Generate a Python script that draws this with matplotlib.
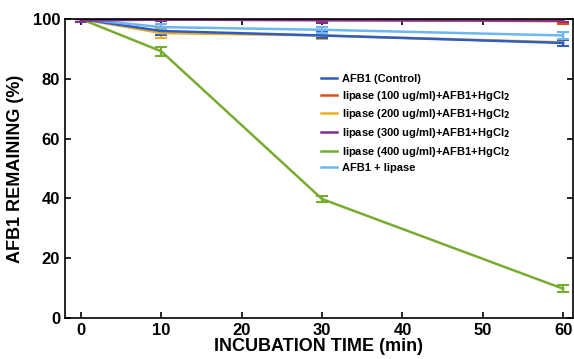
import numpy as np
import matplotlib
matplotlib.use("Agg")
import matplotlib.pyplot as plt
from matplotlib.lines import Line2D

plt.rcParams['font.family'] = ['Liberation Sans', 'DejaVu Sans']
plt.rcParams['font.weight'] = 'bold'
plt.rcParams['mathtext.default'] = 'bf'

# data
time_min = [0, 10, 30, 60]
labels = ["AFB1 (Control)",
          "lipase (100 ug/ml)+AFB1+HgCl$_2$",
          "lipase (200 ug/ml)+AFB1+HgCl$_2$",
          "lipase (300 ug/ml)+AFB1+HgCl$_2$",
          "lipase (400 ug/ml)+AFB1+HgCl$_2$",
          "AFB1 + lipase"]
colors = ["#2f5cc4", "#d95319", "#edb120", "#7e2f8e", "#77ac30", "#6db6f0"]

control = [100, 96.0, 94.5, 92.0]
lip100 = [100, 99.8, 99.7, 99.3]
lip200 = [100, 95.3, 94.5, 92.2]
lip300 = [99.5, 99.8, 99.6, 99.5]
lip400 = [100, 89.2, 39.8, 9.8]
afb_lip = [100, 97.3, 96.4, 94.5]

err_control = [0, 1.5, 1.0, 1.0]
err_lip100 = [0, 0.4, 0.4, 0.9]
err_lip200 = [0, 1.5, 1.3, 1.2]
err_lip300 = [0.6, 0.4, 0.8, 0.6]
err_lip400 = [0, 1.4, 1.0, 1.2]
err_afb_lip = [0, 1.0, 1.0, 1.2]

series = [control, lip100, lip200, lip300, lip400, afb_lip]
errors = [err_control, err_lip100, err_lip200, err_lip300, err_lip400, err_afb_lip]

fig = plt.figure(figsize=(5.74, 3.59), dpi=100)
ax = fig.add_axes([0.113, 0.114, 0.885, 0.833])

# draw in an order so that red / purple sit on top like the original
order = [4, 2, 0, 5, 1, 3]
for i in order:
    ax.errorbar(time_min, series[i], yerr=errors[i], color=colors[i], lw=1.8,
                elinewidth=1.5, capsize=4, capthick=1.5)

ax.set_xlim(-2, 61.2)
ax.set_ylim(0, 100)
ax.set_xticks([0, 10, 20, 30, 40, 50, 60])
ax.set_yticks([0, 20, 40, 60, 80, 100])
ax.tick_params(direction='in', top=True, right=True, length=4, width=1.2,
               labelsize=12)
for lab in ax.get_xticklabels() + ax.get_yticklabels():
    lab.set_fontweight('bold')
for s in ax.spines.values():
    s.set_linewidth(1.2)

ax.set_xlabel("INCUBATION TIME (min)", fontsize=13, fontweight='bold', labelpad=0)
ax.set_ylabel("AFB1 REMAINING (%)", fontsize=13, fontweight='bold', labelpad=6)

handles = [Line2D([], [], color=c, lw=1.8) for c in colors]
ax.legend(handles, labels, loc='upper left',
          bbox_to_anchor=(0.485, 0.85), frameon=False,
          prop={'size': 8, 'weight': 'bold'}, handlelength=1.4,
          labelspacing=0.42, handletextpad=0.5)

fig.savefig("out.png", dpi=100)
